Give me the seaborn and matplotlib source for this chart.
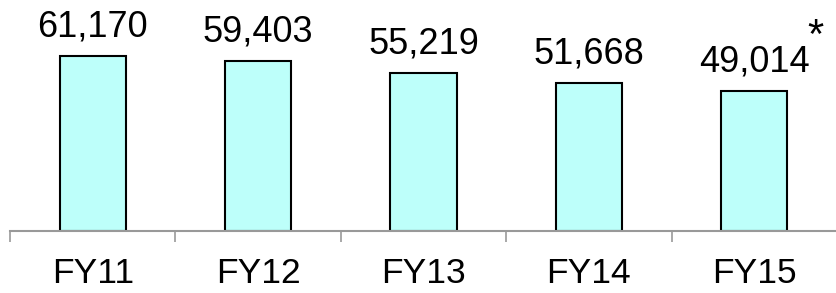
import matplotlib
matplotlib.use('Agg')
import matplotlib.pyplot as plt
import seaborn as sns
import pandas as pd
import numpy as np

# --- DATA ---
years  = ['FY11', 'FY12', 'FY13', 'FY14', 'FY15']
values = [61170, 59403, 55219, 51668, 49014]
notes  = ['', '', '', '', '*']

BAR_COLOR = '#BDFFFA'
AXIS_GRAY = '#999999'

sns.set_style('white')
plt.rcParams['font.family'] = ['Liberation Sans', 'DejaVu Sans']
plt.rcParams['text.color'] = 'black'
plt.rcParams['xtick.color'] = 'black'

df = pd.DataFrame({'year': years, 'value': values})

fig = plt.figure(figsize=(8.37, 2.93), dpi=100)
ax = fig.add_axes([10 / 837, 62 / 293, 1 - 10 / 837, 231 / 293])

sns.barplot(data=df, x='year', y='value', ax=ax, color=BAR_COLOR,
            width=0.4, edgecolor='black', linewidth=1.5, saturation=1)

ax.set_ylim(0, 80700)
ax.set_xlim(-0.5, 4.47)

# value labels + footnote marker
for i, (v, n) in enumerate(zip(values, notes)):
    ax.annotate(f"{v:,}", (i, v), xytext=(0, 8), textcoords='offset points',
                ha='center', va='bottom', fontsize=26, color='black')
    if n:
        ax.annotate(n, (i, v), xytext=(44, 24), textcoords='offset points',
                    ha='center', va='bottom', fontsize=30, color='black')

# axis styling
for s in ['top', 'right', 'left']:
    ax.spines[s].set_visible(False)
ax.spines['bottom'].set_color(AXIS_GRAY)
ax.spines['bottom'].set_linewidth(1.5)
ax.set_yticks([])
ax.set_xlabel('')
ax.set_ylabel('')
ax.set_xticks(np.arange(-0.5, 5.0, 1.0), minor=True)
ax.tick_params(axis='x', which='minor', length=8, width=1.2, color=AXIS_GRAY,
               direction='out', bottom=True)
ax.tick_params(axis='x', which='major', length=0, pad=19, labelsize=25.5,
               labelcolor='black')

plt.savefig('out.png', dpi=100)
